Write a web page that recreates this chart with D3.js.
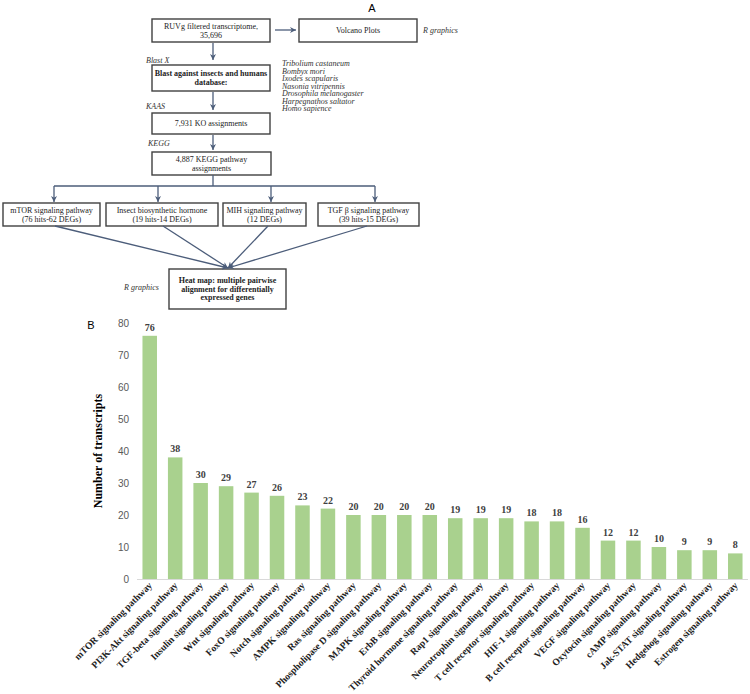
<!DOCTYPE html>
<html>
<head>
<meta charset="utf-8">
<script src="https://cdn.jsdelivr.net/npm/d3@7/dist/d3.min.js"></script>
<style>
  html, body { margin: 0; padding: 0; background: #fff; }
  svg { display: block; }
</style>
</head>
<body>
<svg id="fig" width="750" height="694"></svg>
<script>
// Panel B data
const pathways = [
    "mTOR signaling pathway", "PI3K-Akt signaling pathway", "TGF-beta signaling pathway",
    "Insulin signaling pathway", "Wnt signaling pathway", "FoxO signaling pathway",
    "Notch signaling pathway", "AMPK signaling pathway", "Ras signaling pathway",
    "Phospholipase D signaling pathway", "MAPK signaling pathway", "ErbB signaling pathway",
    "Thyroid hormone signaling pathway", "Rap1 signaling pathway", "Neurotrophin signaling pathway",
    "T cell receptor signaling pathway", "HIF-1 signaling pathway", "B cell receptor signaling pathway",
    "VEGF signaling pathway", "Oxytocin signaling pathway", "cAMP signaling pathway",
    "Jak-STAT signaling pathway", "Hedgehog signaling pathway", "Estrogen signaling pathway"
];
const transcripts = [76, 38, 30, 29, 27, 26, 23, 22, 20, 20, 20, 20, 19, 19, 19, 18, 18, 16, 12, 12, 10, 9, 9, 8];
const yTicks = [0, 10, 20, 30, 40, 50, 60, 70, 80];

// Panel A texts
const species = [
    "Tribolium castaneum", "Bombyx mori", "Ixodes scapularis", "Nasonia vitripennis",
    "Drosophila melanogaster", "Harpegnathos saltator", "Homo sapience"
];
const toolLabels = ["Blast X", "KAAS", "KEGG"];

const svg = d3.select("#fig");
const serif = "'Liberation Serif', 'Times New Roman', serif";
const sans = "'Liberation Sans', Arial, sans-serif";
const arrowColor = "#4c5d7a";
const boxColor = "#404040";

// ---------- Panel A : flowchart ----------
svg.append("defs").append("marker")
    .attr("id", "arr")
    .attr("viewBox", "0 -5 10 10")
    .attr("refX", 10)
    .attr("refY", 0)
    .attr("markerWidth", 6)
    .attr("markerHeight", 6)
    .attr("markerUnits", "userSpaceOnUse")
    .attr("orient", "auto")
    .append("path")
    .attr("d", "M0,-5L10,0L0,5L3,0Z")
    .attr("fill", arrowColor);

const A = svg.append("g");

A.append("text").attr("x", 372).attr("y", 12)
    .attr("text-anchor", "middle")
    .style("font-family", sans).style("font-size", "11px")
    .text("A");

const boxes = [
    { x: 152, y: 19, w: 118, h: 23, lines: ["RUVg filtered transcriptome,", "35,696"], bold: false },
    { x: 299, y: 19, w: 118, h: 23, lines: ["Volcano Plots"], bold: false },
    { x: 152, y: 65, w: 118, h: 26, lines: ["Blast against insects and humans", "database:"], bold: true },
    { x: 152, y: 113, w: 118, h: 21, lines: ["7,931 KO assignments"], bold: false },
    { x: 152, y: 152, w: 119, h: 23, lines: ["4,887 KEGG pathway", "assignments"], bold: false },
    { x: 3, y: 203, w: 97, h: 23, lines: ["mTOR signaling pathway", "(76 hits-62 DEGs)"], bold: false },
    { x: 106, y: 203, w: 112, h: 23, lines: ["Insect biosynthetic hormone", "(19 hits-14 DEGs)"], bold: false },
    { x: 223, y: 203, w: 83, h: 23, lines: ["MIH signaling pathway", "(12 DEGs)"], bold: false },
    { x: 318, y: 203, w: 101, h: 23, lines: ["TGF \u03b2 signaling pathway", "(39 hits-15 DEGs)"], bold: false },
    { x: 169, y: 269, w: 117, h: 40, lines: ["Heat map: multiple pairwise", "alignment for differentially", "expressed genes"], bold: true }
];

boxes.forEach(b => {
    A.append("rect")
        .attr("x", b.x).attr("y", b.y)
        .attr("width", b.w).attr("height", b.h)
        .attr("fill", "#fff")
        .attr("stroke", boxColor)
        .attr("stroke-width", 1.4);
    const lh = 8.6;
    const y0 = b.y + b.h / 2 - (b.lines.length - 1) * lh / 2 + 2.7;
    b.lines.forEach((t, i) => {
        A.append("text")
            .attr("x", b.x + b.w / 2).attr("y", y0 + i * lh)
            .attr("text-anchor", "middle")
            .style("font-family", serif).style("font-size", "8px")
            .style("font-weight", b.bold ? "bold" : "normal")
            .attr("fill", "#222")
            .text(t);
    });
});

// arrows
const arrows = [
    [275, 30, 296, 30],
    [213, 43, 213, 60],
    [213, 92, 213, 110],
    [213, 135, 213, 150],
    [54, 186, 54, 202],
    [158, 186, 158, 202],
    [271, 186, 271, 202],
    [375, 186, 375, 202],
    [55, 226, 228, 268],
    [163, 226, 228, 268],
    [268, 226, 228, 268],
    [367, 226, 228, 268]
];
arrows.forEach(a => {
    A.append("line")
        .attr("x1", a[0]).attr("y1", a[1]).attr("x2", a[2]).attr("y2", a[3])
        .attr("stroke", arrowColor).attr("stroke-width", 1.3)
        .attr("marker-end", "url(#arr)");
});
// branch connector
A.append("path")
    .attr("d", "M213,175V186M54,186H375")
    .attr("fill", "none")
    .attr("stroke", arrowColor).attr("stroke-width", 1.3);

// italic side notes
const italic = (x, y, t, anchor) => A.append("text")
    .attr("x", x).attr("y", y)
    .attr("text-anchor", anchor || "start")
    .style("font-family", serif).style("font-size", "8px")
    .style("font-style", "italic").attr("fill", "#333")
    .text(t);

italic(423, 33, "R graphics");
italic(124, 290, "R graphics");
italic(146, 62.5, toolLabels[0]);
italic(146, 109, toolLabels[1]);
italic(148, 146, toolLabels[2]);
species.forEach((s, i) => italic(282, 66 + i * 7.5, s));

// ---------- Panel B : bar chart ----------
const x = d3.scaleBand()
    .domain(pathways)
    .range([137, 748])
    .paddingInner(0.43)
    .paddingOuter(0.215);

const y = d3.scaleLinear()
    .domain([0, 80])
    .range([579, 323]);

const B = svg.append("g");

B.append("text").attr("x", 91).attr("y", 329)
    .attr("text-anchor", "middle")
    .style("font-family", sans).style("font-size", "11px")
    .text("B");

// y tick labels only, no axis line
B.selectAll(".ytick")
    .data(yTicks)
    .enter().append("text")
    .attr("class", "ytick")
    .attr("x", 129)
    .attr("y", d => y(d) + 3.5)
    .attr("text-anchor", "end")
    .style("font-family", sans).style("font-size", "10px")
    .attr("fill", "#595959")
    .text(d => d);

B.append("text")
    .attr("transform", `translate(102,${(y(0) + y(80)) / 2}) rotate(-90)`)
    .attr("text-anchor", "middle")
    .style("font-family", serif).style("font-size", "12px")
    .style("font-weight", "bold")
    .text("Number of transcripts");

B.selectAll(".bar")
    .data(transcripts)
    .enter().append("rect")
    .attr("class", "bar")
    .attr("x", (d, i) => x(pathways[i]))
    .attr("y", d => y(d))
    .attr("width", x.bandwidth())
    .attr("height", d => y(0) - y(d))
    .attr("fill", "#a9d18e");

B.selectAll(".val")
    .data(transcripts)
    .enter().append("text")
    .attr("class", "val")
    .attr("x", (d, i) => x(pathways[i]) + x.bandwidth() / 2)
    .attr("y", d => y(d) - 5)
    .attr("text-anchor", "middle")
    .style("font-family", serif).style("font-size", "10px")
    .style("font-weight", "bold")
    .attr("fill", "#404040")
    .text(d => d);

// baseline
B.append("line")
    .attr("x1", 137).attr("x2", 748)
    .attr("y1", y(0) + 0.5).attr("y2", y(0) + 0.5)
    .attr("stroke", "#d9d9d9").attr("stroke-width", 1);

// category labels
B.selectAll(".xlab")
    .data(pathways)
    .enter().append("text")
    .attr("class", "xlab")
    .attr("transform", d => `translate(${x(d) + x.bandwidth() / 2 + 3},${y(0) + 7}) rotate(-45)`)
    .attr("text-anchor", "end")
    .style("font-family", serif).style("font-size", "9.6px")
    .style("font-weight", "bold")
    .attr("fill", "#222")
    .text(d => d);
</script>
</body>
</html>
